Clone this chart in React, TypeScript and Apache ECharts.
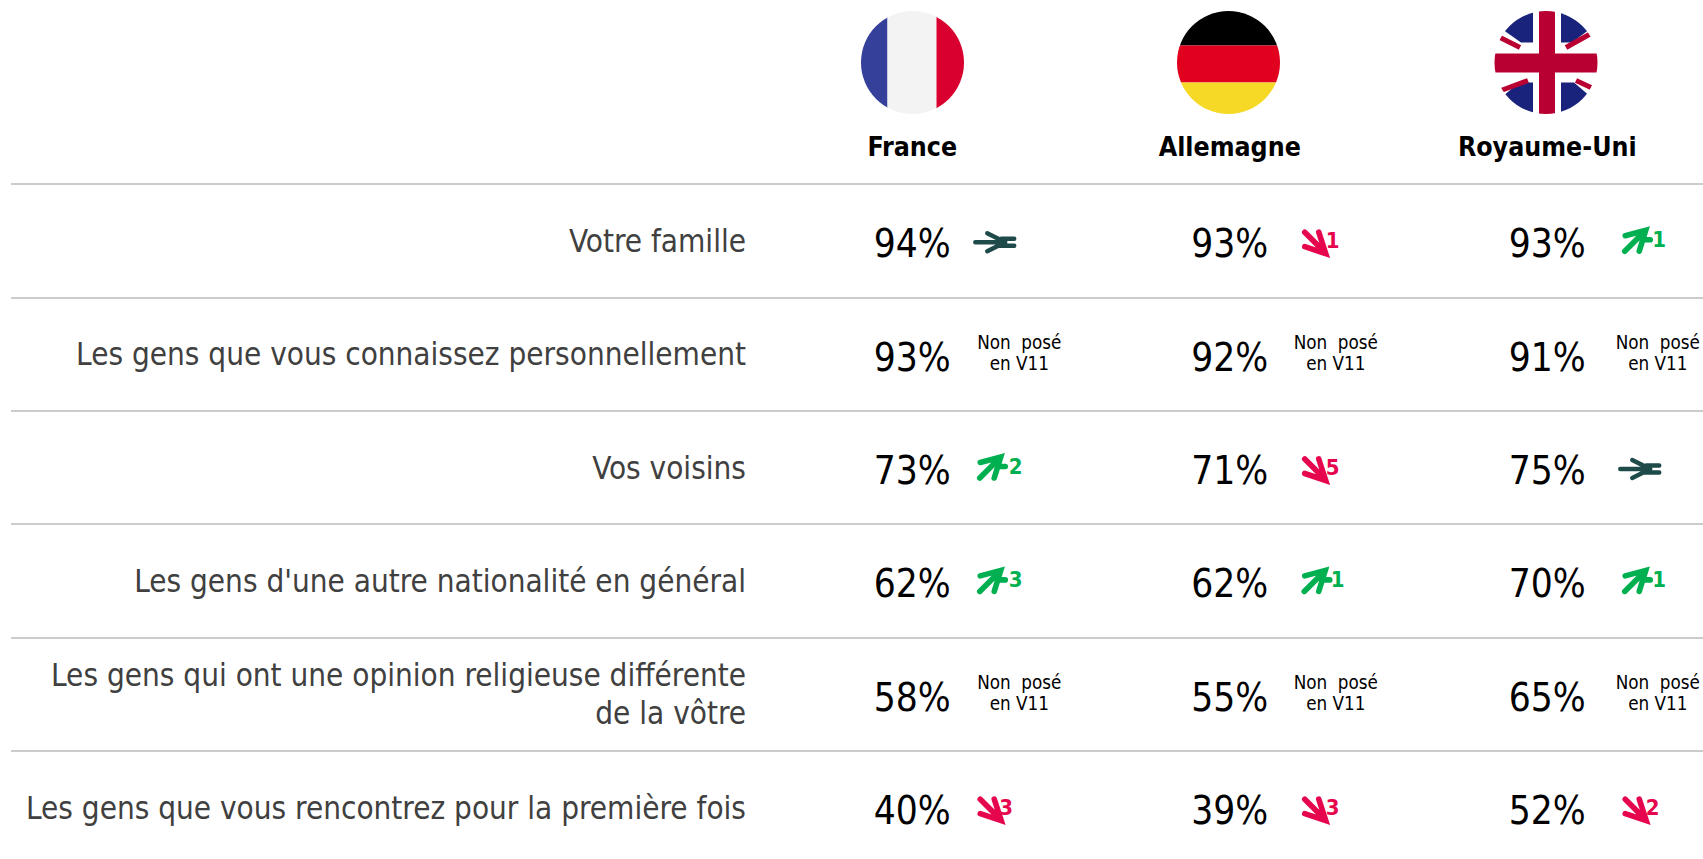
import React, { useEffect, useRef } from "react";
import * as echarts from "echarts";

const countries = ["France", "Allemagne", "Royaume-Uni"];
const rowLabels = [
  "Votre famille",
  "Les gens que vous connaissez personnellement",
  "Vos voisins",
  "Les gens d'une autre nationalité en général",
  "Les gens qui ont une opinion religieuse différente\nde la vôtre",
  "Les gens que vous rencontrez pour la première fois",
];
const franceValues = [94, 93, 73, 62, 58, 40];
const allemagneValues = [93, 92, 71, 62, 55, 39];
const royaumeValues = [93, 91, 75, 70, 65, 52];
const franceDeltas = [0, null, 2, 3, null, -3];
const allemagneDeltas = [-1, null, -5, 1, null, -3];
const royaumeDeltas = [1, null, 0, 1, null, -2];
const notAskedLines = ["Non  posé", "en V11"];

const FONT = '"DejaVu Sans Condensed", "DejaVu Sans", sans-serif';
const GREEN = "#00B050";
const RED = "#E6064E";
const TEAL = "#1F4A4A";
const arrowOffset = [65, 72, 75];
const upNumberOffset = [38.5, 36, 37];
const downNumberOffset = [29, 31, 30.5];
const notAskedOffset = [107, 106, 110.5];

const UP = "M2.5 24.5L23 4M3 9L23.5 3.5L17 24.5M22 13L28 13";
const DOWN = "M3 3.5L23 23.5M3 18L24 25L17 3.5";
const EQUAL = "M2 0L32 0M14 -9L32 0L14 9M28 -3.5L41 -3.5M28 3.5L41 3.5";

const flagDefs = `<defs><clipPath id="c"><circle cx="52" cy="52" r="51.5"/></clipPath></defs>`;
const wrapFlag = (body: string) =>
  "data:image/svg+xml;charset=utf-8," +
  encodeURIComponent(
    `<svg xmlns="http://www.w3.org/2000/svg" width="104" height="104" viewBox="0 0 104 104">${flagDefs}<g clip-path="url(#c)">${body}</g></svg>`
  );
const flags = [
  wrapFlag(
    `<rect width="27" height="104" fill="#35409A"/><rect x="27" width="49" height="104" fill="#F3F3F3"/><rect x="76" width="28" height="104" fill="#D9002F"/>`
  ),
  wrapFlag(
    `<rect width="104" height="35" fill="#000"/><rect y="35" width="104" height="37" fill="#E2001F"/><rect y="72" width="104" height="32" fill="#F6D927"/>`
  ),
  wrapFlag(
    `<rect width="104" height="104" fill="#fff"/>
     <path d="M39 0L39 32L27 32L10 20L22 0ZM67 0L67 32L78 32L94 20L82 0ZM39 72L39 104L22 104L11 84L25 72ZM67 72L67 104L82 104L94 84L80 72Z" fill="#1A237B"/>
     <path d="M6 27L26 37M72 37L97 23M7 80L34 70M82 70L97 77" stroke="#B90032" stroke-width="5"/>
     <rect x="45" width="16" height="104" fill="#B90032"/>
     <rect y="43" width="104" height="19" fill="#B90032"/>`
  ),
];
const flagCenters = [912.5, 1228.5, 1546];

function cellRenderer(params: any, api: any) {
  const col = api.value(0);
  const row = api.value(1);
  const value = api.value(2);
  const delta = api.value(3);
  const [cx, cy] = api.coord([col, row]);
  const children: any[] = [
    {
      type: "text",
      x: cx,
      y: cy + 3,
      style: {
        text: `${value}%`,
        font: `38.5px ${FONT}`,
        fill: "#000",
        align: "center",
        verticalAlign: "middle",
      },
    },
  ];
  if (Number.isNaN(delta)) {
    notAskedLines.forEach((line, i) => {
      children.push({
        type: "text",
        x: cx + notAskedOffset[col],
        y: cy - 12 + i * 21.5,
        style: {
          text: line,
          font: `18.7px ${FONT}`,
          fill: "#000",
          align: "center",
          verticalAlign: "middle",
        },
      });
    });
  } else if (delta === 0) {
    children.push({
      type: "path",
      x: cx + arrowOffset[col] - 4,
      y: cy + 1.5,
      shape: { pathData: EQUAL },
      style: { fill: "none", stroke: TEAL, lineWidth: 4.4, lineCap: "round", lineJoin: "round" },
    });
  } else {
    const up = delta > 0;
    const color = up ? GREEN : RED;
    const left = cx + arrowOffset[col];
    children.push({
      type: "path",
      x: left,
      y: cy + (up ? -14 : -12),
      shape: { pathData: up ? UP : DOWN },
      style: { fill: "none", stroke: color, lineWidth: 5.6, lineCap: "round", lineJoin: "miter" },
    });
    children.push({
      type: "text",
      x: left + (up ? upNumberOffset[col] : downNumberOffset[col]),
      y: cy + (up ? -1.5 : -0.5),
      style: {
        text: String(Math.abs(delta)),
        font: `bold 22px ${FONT}`,
        fill: color,
        align: "center",
        verticalAlign: "middle",
      },
    });
  }
  return { type: "group", children };
}

const toCells = (col: number, values: number[], deltas: (number | null)[]) =>
  values.map((v, row) => [col, row, v, deltas[row]]);

export default function App() {
  const ref = useRef<HTMLDivElement>(null);
  useEffect(() => {
    document.body.style.margin = "0";
    const chart = echarts.init(ref.current!, null, { renderer: "svg" });
    const gridTop = 184;
    const gridHeight = 680.4;
    const cellSeries = (col: number, values: number[], deltas: (number | null)[]) => ({
      type: "custom",
      name: countries[col],
      xAxisIndex: 1,
      yAxisIndex: 1,
      renderItem: cellRenderer,
      data: toCells(col, values, deltas),
      silent: true,
    });
    chart.setOption({
      animation: false,
      backgroundColor: "#fff",
      grid: [
        { left: 11, width: 1692, top: gridTop, height: gridHeight },
        { left: 753.5, width: 952.5, top: gridTop, height: gridHeight },
      ],
      xAxis: [
        { type: "value", gridIndex: 0, min: 0, max: 1, show: false },
        {
          type: "category",
          gridIndex: 1,
          position: "top",
          data: countries,
          axisLine: { show: false },
          axisTick: { show: false },
          splitLine: { show: false },
          axisLabel: {
            interval: 0,
            margin: 24,
            color: "#000",
            fontFamily: FONT,
            fontWeight: "bold",
            fontSize: 26.5,
          },
        },
      ],
      yAxis: [
        {
          type: "category",
          gridIndex: 0,
          inverse: true,
          data: rowLabels,
          axisLine: { show: false },
          axisTick: { show: false },
          axisLabel: { show: false },
          splitLine: { show: true, interval: 0, lineStyle: { color: "#CCCCCC", width: 2 } },
        },
        {
          type: "category",
          gridIndex: 1,
          inverse: true,
          data: rowLabels,
          axisLine: { show: false },
          axisTick: { show: false },
          splitLine: { show: false },
          axisLabel: {
            interval: 0,
            margin: 7.5,
            align: "right",
            color: "#404040",
            fontFamily: FONT,
            fontSize: 31.2,
            lineHeight: 38,
            padding: [6, 0, 0, 0],
          },
        },
      ],
      series: [
        cellSeries(0, franceValues, franceDeltas),
        cellSeries(1, allemagneValues, allemagneDeltas),
        cellSeries(2, royaumeValues, royaumeDeltas),
      ],
      graphic: flags.map((image, i) => ({
        type: "image",
        x: flagCenters[i] - 52,
        y: 10.5,
        silent: true,
        style: { image, width: 104, height: 104 },
      })),
    });
    return () => chart.dispose();
  }, []);
  return (
    <div style={{ width: 1703, height: 859, overflow: "hidden" }}>
      <div ref={ref} style={{ width: 1730, height: 870 }} />
    </div>
  );
}
